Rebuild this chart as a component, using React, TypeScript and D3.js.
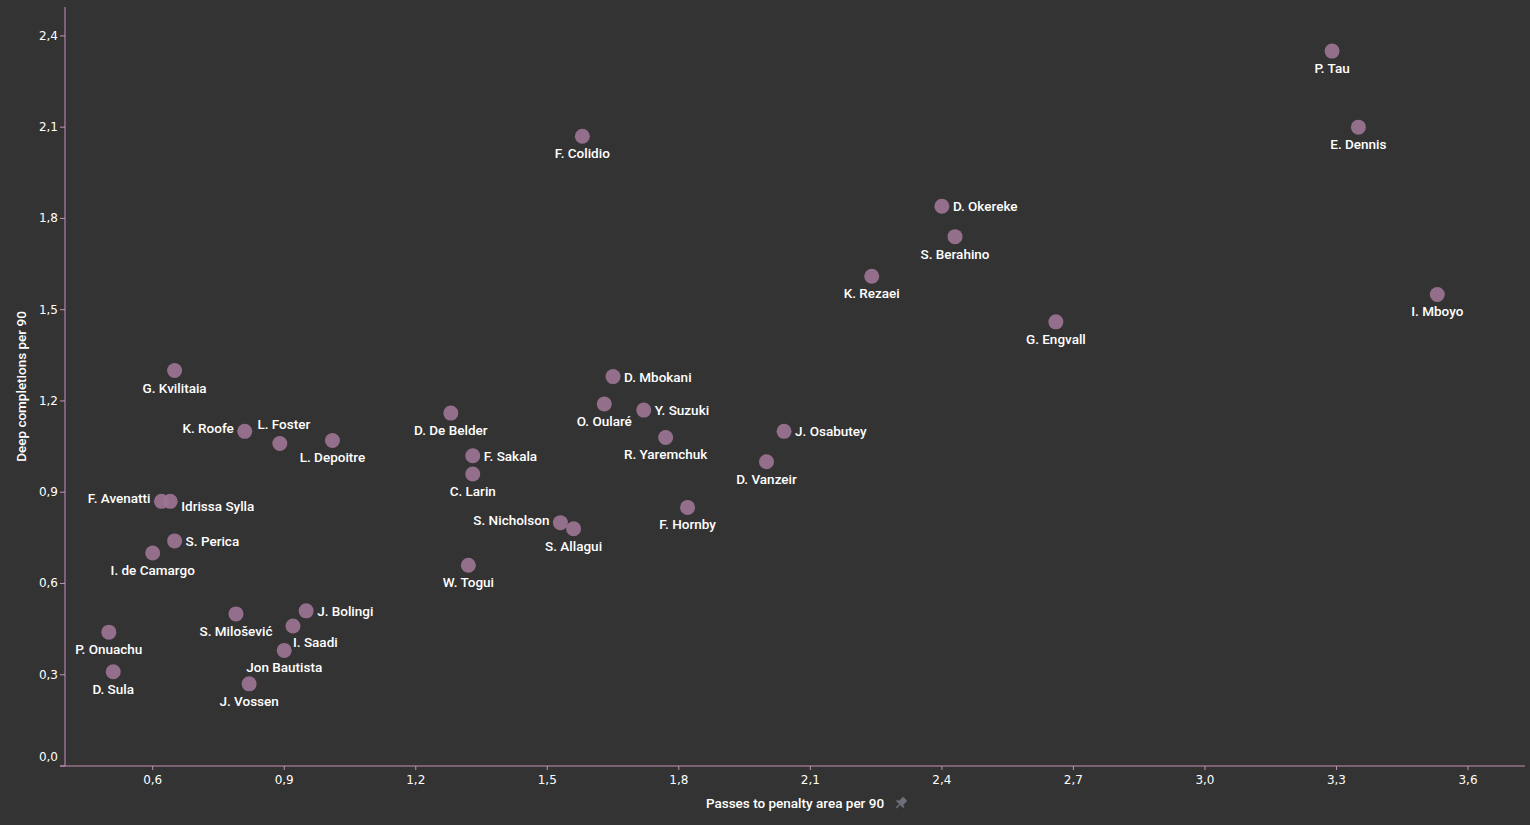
import * as d3 from "d3";
import { ReactElement } from "react";

// players, x = passes to penalty area per 90, y = deep completions per 90
const players = [
  "P. Tau", "E. Dennis", "F. Colidio", "D. Okereke", "S. Berahino", "K. Rezaei", "I. Mboyo",
  "G. Engvall", "G. Kvilitaia", "D. Mbokani", "O. Oularé", "Y. Suzuki", "D. De Belder", "K. Roofe",
  "L. Foster", "L. Depoitre", "J. Osabutey", "R. Yaremchuk", "F. Sakala", "C. Larin", "D. Vanzeir",
  "F. Avenatti", "Idrissa Sylla", "F. Hornby", "S. Nicholson", "S. Allagui", "S. Perica",
  "I. de Camargo", "W. Togui", "J. Bolingi", "S. Milošević", "I. Saadi", "P. Onuachu",
  "Jon Bautista", "D. Sula", "J. Vossen",
];
const passesPer90 = [
  3.29, 3.35, 1.58, 2.4, 2.43, 2.24, 3.53,
  2.66, 0.65, 1.65, 1.63, 1.72, 1.28, 0.81,
  0.89, 1.01, 2.04, 1.77, 1.33, 1.33, 2.0,
  0.62, 0.64, 1.82, 1.53, 1.56, 0.65,
  0.6, 1.32, 0.95, 0.79, 0.92, 0.5,
  0.9, 0.51, 0.82,
];
const deepPer90 = [
  2.35, 2.1, 2.07, 1.84, 1.74, 1.61, 1.55,
  1.46, 1.3, 1.28, 1.19, 1.17, 1.16, 1.1,
  1.06, 1.07, 1.1, 1.08, 1.02, 0.96, 1.0,
  0.87, 0.87, 0.85, 0.8, 0.78, 0.74,
  0.7, 0.66, 0.51, 0.5, 0.46, 0.44,
  0.38, 0.31, 0.27,
];
const xTicks = [0.6, 0.9, 1.2, 1.5, 1.8, 2.1, 2.4, 2.7, 3.0, 3.3, 3.6];
const yTicks = [0.0, 0.3, 0.6, 0.9, 1.2, 1.5, 1.8, 2.1, 2.4];

// where each label sits relative to its dot (default: below)
const labelSide: Record<string, string> = {
  "D. Okereke": "r", "D. Mbokani": "r", "Y. Suzuki": "r", "J. Osabutey": "r", "F. Sakala": "r",
  "Idrissa Sylla": "r", "S. Perica": "r", "J. Bolingi": "r", "I. Saadi": "br",
  "K. Roofe": "l", "F. Avenatti": "l", "S. Nicholson": "l", "L. Foster": "a",
};

const W = 1530, H = 825;
const left = 65, right = 1525, top = 7, bottom = 766;
const bg = "#333333";
const axisColor = "#c590b4";
const dotColor = "#9c7492";
const labelFont = "Roboto, 'Noto Sans', sans-serif";
const tickFont = "'DejaVu Sans', Verdana, sans-serif";

const fmt = (v: number) => v.toFixed(1).replace(".", ",");

const App = (): ReactElement => {
  const x = d3.scaleLinear().domain([0.4, 3.73]).range([left, right]);
  const y = d3.scaleLinear().domain([0, 2.495]).range([bottom, top]);

  const data = players.map((name, i) => ({ name, px: passesPer90[i], py: deepPer90[i] }));

  return (
    <div style={{ position: "fixed", left: 0, top: 0, width: W, height: H, background: bg }}>
      <svg width={W} height={H} style={{ display: "block" }}>
        <rect width={W} height={H} fill={bg} />

        {/* y axis */}
        <line x1={left} x2={left} y1={top} y2={bottom} stroke={axisColor} strokeWidth={1} />
        {yTicks.map((t) => (
          <g key={"y" + t}>
            <line x1={left - 5} x2={left} y1={y(t)} y2={y(t)} stroke={axisColor} />
            <text x={left - 7} y={t === 0 ? y(t) - 5 : y(t) + 4} textAnchor="end" fill="#ffffff"
              fontFamily={tickFont} fontSize={12}>{fmt(t)}</text>
          </g>
        ))}

        {/* x axis */}
        <line x1={left - 5} x2={right} y1={bottom} y2={bottom} stroke={axisColor} strokeWidth={1} />
        {xTicks.map((t) => (
          <g key={"x" + t}>
            <line x1={x(t)} x2={x(t)} y1={bottom} y2={bottom + 4} stroke={axisColor} />
            <text x={x(t)} y={bottom + 18} textAnchor="middle" fill="#ffffff"
              fontFamily={tickFont} fontSize={12}>{fmt(t)}</text>
          </g>
        ))}

        {/* axis titles */}
        <text x={(left + right) / 2} y={808} textAnchor="middle" fill="#ffffff"
          fontFamily={labelFont} fontWeight={500} fontSize={13.5}>Passes to penalty area per 90</text>
        <g transform={`translate(${(left + right) / 2 + 106},803) rotate(45)`} fill="#6b6f78">
          <rect x={-3} y={-6} width={6} height={7} rx={1} />
          <rect x={-5} y={0} width={10} height={2} />
          <rect x={-0.7} y={2} width={1.4} height={5} />
        </g>
        <text transform={`translate(26,${(top + bottom) / 2}) rotate(-90)`} textAnchor="middle" fill="#ffffff"
          fontFamily={labelFont} fontWeight={500} fontSize={13.5}>Deep completions per 90</text>

        {/* dots */}
        {data.map((d) => (
          <circle key={"c" + d.name} cx={x(d.px)} cy={y(d.py)} r={7.5} fill={dotColor} fillOpacity={0.92} />
        ))}

        {/* labels */}
        {data.map((d) => {
          const cx = x(d.px), cy = y(d.py);
          const side = labelSide[d.name] || "b";
          let tx = cx, ty = cy + 22, anchor = "middle";
          if (side === "r") { tx = cx + 11; ty = cy + 5; anchor = "start"; }
          if (side === "l") { tx = cx - 11; ty = cy + 2; anchor = "end"; }
          if (side === "a") { tx = cx + 4; ty = cy - 15; anchor = "middle"; }
          if (side === "br") { tx = cx; ty = cy + 21; anchor = "start"; }
          if (d.name === "Idrissa Sylla") ty = cy + 10;
          return (
            <text key={"t" + d.name} x={tx} y={ty} textAnchor={anchor} fill="#ffffff"
              fontFamily={labelFont} fontWeight={500} fontSize={13.5}>{d.name}</text>
          );
        })}
      </svg>
    </div>
  );
};

export default App;
